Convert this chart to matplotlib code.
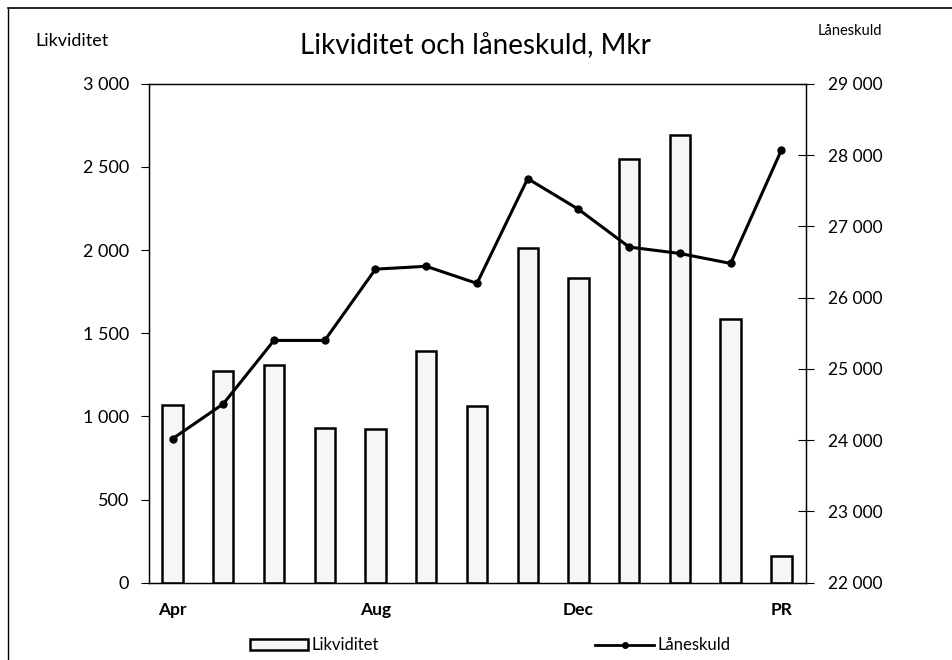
import numpy as np
import matplotlib
matplotlib.use("Agg")
import matplotlib.pyplot as plt
from matplotlib.lines import Line2D
from matplotlib.patches import Patch
from matplotlib.ticker import FuncFormatter

plt.rcParams['font.family'] = ['Lato', 'DejaVu Sans']

# months (April -> March) plus PR
months = ["Apr", "Maj", "Jun", "Jul", "Aug", "Sep", "Okt", "Nov", "Dec",
          "Jan", "Feb", "Mar", "PR"]
shown = ["Apr", "Aug", "Dec", "PR"]
likviditet = [1070, 1275, 1310, 930, 925, 1395, 1065, 2010, 1830, 2550, 2690, 1585, 160]
laneskuld = [24020, 24510, 25400, 25400, 26400, 26440, 26200, 27670, 27240,
             26710, 26620, 26480, 28070]

x = np.arange(len(months))

def space_thousands(v, pos):
    return "{:,.0f}".format(v).replace(",", " ")

fig = plt.figure(figsize=(9.53, 6.60), dpi=100)
ax = fig.add_axes([0.156, 0.117, 0.690, 0.756])
ax2 = ax.twinx()

ax.bar(x, likviditet, width=0.4, color="#f6f6f6", edgecolor="black", linewidth=1.8, zorder=2)
ax2.plot(x, laneskuld, color="black", lw=2.2, marker="o", markersize=5, zorder=3)
ax.set_zorder(1)
ax2.set_zorder(2)
ax2.patch.set_visible(False)

ax.set_xlim(-0.47, 12.49)
ax.set_ylim(0, 3000)
ax2.set_ylim(22000, 29000)
ax.set_yticks(np.arange(0, 3001, 500))
ax2.set_yticks(np.arange(22000, 29001, 1000))
ax.yaxis.set_major_formatter(FuncFormatter(space_thousands))
ax2.yaxis.set_major_formatter(FuncFormatter(space_thousands))

ax.set_xticks(x)
ax.set_xticklabels([m if m in shown else "" for m in months], fontsize=12.5, fontweight="bold")
ax.tick_params(axis="x", length=0, pad=14)
ax.tick_params(axis="y", direction="out", length=6, width=0.8, labelsize=13, pad=8)
ax2.tick_params(axis="y", direction="inout", length=12, width=0.8, labelsize=12.5, pad=10)

for a in (ax, ax2):
    for s in a.spines.values():
        s.set_linewidth(0.9)
        s.set_color("black")

fig.text(0.499, 0.93, "Likviditet och låneskuld, Mkr", ha="center", va="center", fontsize=20)
fig.text(0.037, 0.938, "Likviditet", ha="left", va="center", fontsize=13)
fig.text(0.858, 0.953, "Låneskuld", ha="left", va="center", fontsize=10.5)

handles = [Patch(facecolor="#f6f6f6", edgecolor="black", linewidth=1.8),
           Line2D([], [], color="black", lw=2, marker="o", markersize=4)]
fig.legend(handles, ["Likviditet", "Låneskuld"], loc="center", bbox_to_anchor=(0.514, 0.022),
           ncol=2, frameon=False, fontsize=12, handlelength=3.5, handleheight=0.7,
           handletextpad=0.2, columnspacing=13)

# scanned page border (top and left)
fig.add_artist(Line2D([0.008, 1.0], [0.988, 0.988], color="black", lw=1.2, transform=fig.transFigure))
fig.add_artist(Line2D([0.008, 0.008], [0.0, 0.988], color="black", lw=1.0, transform=fig.transFigure))

fig.savefig("out.png", dpi=100)
